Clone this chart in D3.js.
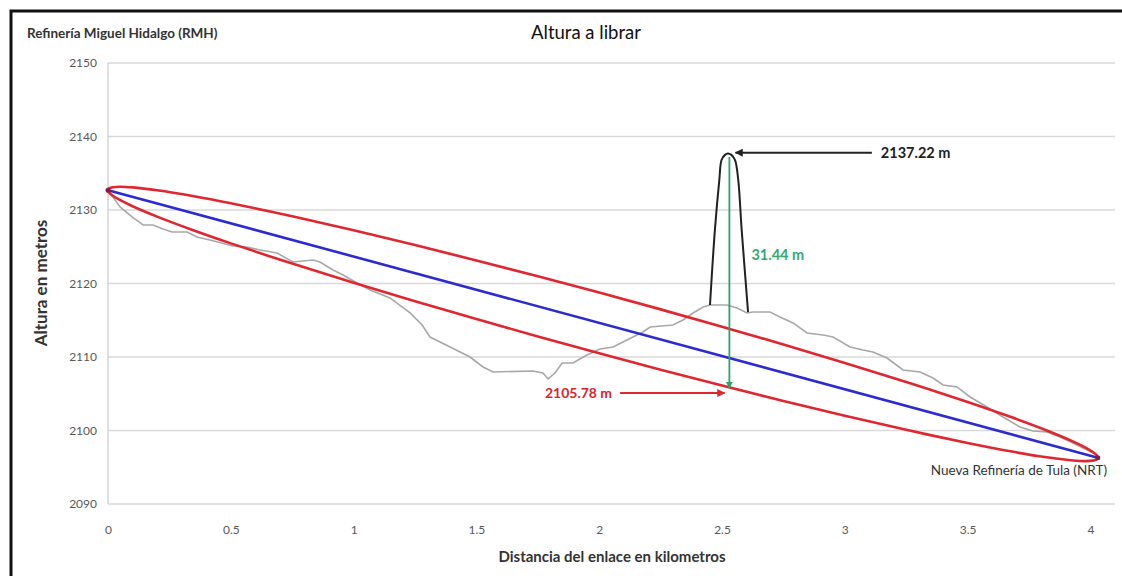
<!DOCTYPE html>
<html>
<head>
<meta charset="utf-8">
<script src="https://cdn.jsdelivr.net/npm/d3@7"></script>
<style>
  html, body { margin: 0; padding: 0; background: #fff; }
  svg { display: block; }
  text { font-family: Lato, "Open Sans", sans-serif; }
</style>
</head>
<body>
<svg id="chart" width="1122" height="576"></svg>
<script>
// ---------- data ----------
const titleText = "Altura a librar";
const startLabel = "Refinería Miguel Hidalgo (RMH)";
const endLabel = "Nueva Refinería de Tula (NRT)";
const xTitle = "Distancia del enlace en kilometros";
const yTitle = "Altura en metros";

const yTicks = [2090, 2100, 2110, 2120, 2130, 2140, 2150];
const xTicks = [0, 0.5, 1, 1.5, 2, 2.5, 3, 3.5, 4];
const xTickLabels = ["0", "0.5", "1", "1.5", "2", "2.5", "3", "3.5", "4"];

// terrain profile (km, m)
const profileKm = [0, 0.049, 0.098, 0.143, 0.183, 0.224, 0.261, 0.322, 0.362, 0.415, 0.509, 0.566, 0.619, 0.688, 0.753, 0.835, 0.863, 0.916, 0.957, 1.014, 1.067, 1.148, 1.230, 1.279, 1.311, 1.393, 1.474, 1.527, 1.568, 1.730, 1.771, 1.792, 1.820, 1.849, 1.893, 1.950, 2.003, 2.056, 2.113, 2.178, 2.207, 2.300, 2.341, 2.382, 2.423, 2.451, 2.520, 2.561, 2.602, 2.626, 2.695, 2.736, 2.789, 2.846, 2.911, 2.952, 3.021, 3.074, 3.115, 3.172, 3.237, 3.306, 3.359, 3.400, 3.457, 3.510, 3.579, 3.644, 3.713, 3.766, 3.823, 3.876, 3.929, 3.986, 4.027, 4.03];
const profileM = [2132.7, 2130.41, 2129.05, 2127.96, 2127.96, 2127.41, 2127.01, 2127.01, 2126.33, 2125.92, 2125.10, 2124.97, 2124.56, 2124.15, 2122.93, 2123.20, 2122.93, 2121.84, 2121.16, 2120.07, 2119.12, 2118.03, 2115.99, 2114.35, 2112.72, 2111.36, 2110.00, 2108.64, 2107.96, 2108.10, 2107.82, 2107.01, 2107.82, 2109.18, 2109.18, 2110.27, 2111.09, 2111.36, 2112.31, 2113.40, 2114.08, 2114.35, 2115.03, 2115.99, 2116.80, 2117.07, 2117.07, 2116.67, 2115.99, 2116.12, 2116.12, 2115.44, 2114.63, 2113.27, 2113.00, 2112.72, 2111.36, 2110.95, 2110.68, 2109.86, 2108.23, 2107.96, 2107.14, 2106.19, 2105.92, 2104.56, 2103.20, 2101.84, 2100.48, 2099.93, 2099.80, 2099.12, 2098.30, 2097.35, 2096.67, 2096.3];

// line of sight
const linkKm = [0, 4.03];
const linkM = [2132.7, 2096.3];

// Fresnel zone edges (km, upper m, lower m)
const fresnelKm = [0, 0.005, 0.02, 0.05, 0.1, 0.2, 0.35, 0.5, 0.75, 1, 1.25, 1.5, 1.75, 2, 2.25, 2.5, 2.75, 3, 3.25, 3.5, 3.68, 3.83, 3.93, 3.98, 4.01, 4.025, 4.03];
const fresnelUpper = [2132.7, 2132.95, 2133.10, 2133.17, 2133.08, 2132.69, 2131.87, 2130.91, 2129.15, 2127.24, 2125.23, 2123.14, 2120.99, 2118.77, 2116.48, 2114.13, 2111.71, 2109.20, 2106.61, 2103.88, 2101.79, 2099.90, 2098.49, 2097.67, 2097.06, 2096.64, 2096.3];
const fresnelLower = [2132.7, 2132.36, 2131.94, 2131.34, 2130.51, 2129.10, 2127.21, 2125.46, 2122.71, 2120.10, 2117.59, 2115.16, 2112.80, 2110.51, 2108.28, 2106.11, 2104.01, 2102.00, 2100.09, 2098.30, 2097.13, 2096.32, 2095.92, 2095.84, 2095.90, 2096.06, 2096.3];

// obstacle (height to clear)
const obstacleKm = [2.451, 2.471, 2.489, 2.498, 2.512, 2.524, 2.538, 2.553, 2.566, 2.580, 2.606];
const obstacleM = [2117.07, 2127.3, 2134.1, 2136.8, 2137.5, 2137.7, 2137.5, 2136.8, 2134.1, 2127.3, 2116.1];

// annotations
const peakKm = 2.53, peakM = 2137.22, clearM = 2105.78, diffM = 31.44;
const peakLabel = "2137.22 m", clearLabel = "2105.78 m", diffLabel = "31.44 m";
const peakArrowKm = [3.11, 2.555], peakArrowM = 2137.8;
const clearArrowKm = [2.085, 2.51], clearArrowM = 2105.1;

// ---------- drawing ----------
const svg = d3.select("#chart");
const W = 1122, H = 576;
const x = d3.scaleLinear().domain([0, 4.1]).range([108, 1115]);
const y = d3.scaleLinear().domain([2090, 2150]).range([504, 63]);

// frame
svg.append("rect").attr("x", 0).attr("y", 0).attr("width", W).attr("height", H).attr("fill", "#fff");
svg.append("path").attr("d", `M11,${H} L11,11 L${W},11`).attr("fill", "none").attr("stroke", "#111").attr("stroke-width", 3);

// gridlines
svg.append("g").selectAll("line").data(yTicks).join("line")
  .attr("x1", x(0)).attr("x2", x(4.1))
  .attr("y1", d => y(d)).attr("y2", d => y(d))
  .attr("stroke", "#d9d9d9").attr("stroke-width", 1.3);
svg.append("line").attr("x1", x(0)).attr("x2", x(0)).attr("y1", y(2150)).attr("y2", y(2090))
  .attr("stroke", "#d0d0d0").attr("stroke-width", 1.3);

// axes
const yAxis = d3.axisLeft(y).tickValues(yTicks).tickSize(0).tickPadding(11).tickFormat(d3.format("d"));
const gy = svg.append("g").attr("transform", `translate(${x(0)},0)`).call(yAxis);
gy.select(".domain").remove();
gy.selectAll("text").attr("font-size", 12).attr("fill", "#595959").attr("font-family", "Lato, sans-serif");

const xAxis = d3.axisBottom(x).tickValues(xTicks).tickSize(0).tickPadding(21).tickFormat((d, i) => xTickLabels[i]);
const gx = svg.append("g").attr("transform", `translate(0,${y(2090)})`).call(xAxis);
gx.select(".domain").remove();
gx.selectAll("text").attr("font-size", 12).attr("fill", "#595959").attr("font-family", "Lato, sans-serif");

// terrain
const line = d3.line().x(d => x(d[0])).y(d => y(d[1]));
svg.append("path").datum(profileKm.map((k, i) => [k, profileM[i]]))
  .attr("d", line).attr("fill", "none").attr("stroke", "#a8a8a8").attr("stroke-width", 1.6);

// obstacle
svg.append("path").datum(obstacleKm.map((k, i) => [k, obstacleM[i]]))
  .attr("d", d3.line().x(d => x(d[0])).y(d => y(d[1])).curve(d3.curveCatmullRom.alpha(0.5)))
  .attr("fill", "none").attr("stroke", "#222").attr("stroke-width", 2);

// line of sight
svg.append("path").datum(linkKm.map((k, i) => [k, linkM[i]]))
  .attr("d", line).attr("fill", "none").attr("stroke", "#2b2bd0").attr("stroke-width", 2.6);

// Fresnel zone
const fresnelPts = fresnelKm.map((k, i) => [k, fresnelUpper[i]])
  .concat(fresnelKm.slice(1, -1).map((k, i) => [k, fresnelLower[i + 1]]).reverse());
svg.append("path").datum(fresnelPts)
  .attr("d", d3.line().x(d => x(d[0])).y(d => y(d[1])).curve(d3.curveCatmullRomClosed.alpha(0.5)))
  .attr("fill", "none").attr("stroke", "#e0262e").attr("stroke-width", 2.6);

// end markers
svg.append("g").selectAll("circle").data(linkKm.map((k, i) => [k, linkM[i]])).join("circle")
  .attr("cx", d => x(d[0])).attr("cy", d => y(d[1])).attr("r", 2.5).attr("fill", "#8a1a40");

// markers
const defs = svg.append("defs");
function marker(id, color) {
  defs.append("marker").attr("id", id).attr("viewBox", "0 0 10 10").attr("refX", 9).attr("refY", 5)
    .attr("markerWidth", 4).attr("markerHeight", 4).attr("orient", "auto")
    .append("path").attr("d", "M0,0 L10,5 L0,10 z").attr("fill", color);
}
marker("arBlack", "#222");
marker("arRed", "#e0262e");
marker("arGreen", "#2aa36a");

// green clearance arrow
svg.append("line").attr("x1", x(peakKm)).attr("x2", x(peakKm))
  .attr("y1", y(peakM)).attr("y2", y(clearM))
  .attr("stroke", "#2aa36a").attr("stroke-width", 1.8).attr("marker-end", "url(#arGreen)");

// black peak arrow
svg.append("line").attr("x1", x(peakArrowKm[0])).attr("x2", x(peakArrowKm[1]))
  .attr("y1", y(peakArrowM)).attr("y2", y(peakArrowM))
  .attr("stroke", "#222").attr("stroke-width", 2).attr("marker-end", "url(#arBlack)");

// red clearance arrow
svg.append("line").attr("x1", x(clearArrowKm[0])).attr("x2", x(clearArrowKm[1]))
  .attr("y1", y(clearArrowM)).attr("y2", y(clearArrowM))
  .attr("stroke", "#e0262e").attr("stroke-width", 2).attr("marker-end", "url(#arRed)");

// annotation texts
svg.append("text").attr("x", x(peakArrowKm[0]) + 9).attr("y", y(peakArrowM) + 5)
  .attr("font-size", 14.5).attr("font-weight", "bold").attr("fill", "#222").text(peakLabel);
svg.append("text").attr("x", x(clearArrowKm[0]) - 8).attr("y", y(clearArrowM) + 5)
  .attr("text-anchor", "end").attr("font-size", 14).attr("font-weight", "bold").attr("fill", "#d8262e").text(clearLabel);
svg.append("text").attr("x", x(peakKm) + 22).attr("y", y(2123.9) + 5)
  .attr("font-size", 14.5).attr("font-weight", "bold").attr("fill", "#33aa6e").text(diffLabel);

// titles
svg.append("text").attr("x", 586).attr("y", 39).attr("text-anchor", "middle")
  .attr("font-size", 18.5).attr("fill", "#111").text(titleText);
svg.append("text").attr("x", 27).attr("y", 38)
  .attr("font-size", 13.5).attr("font-weight", "bold").attr("fill", "#333").text(startLabel);
svg.append("text").attr("x", 1107).attr("y", 475).attr("text-anchor", "end")
  .attr("font-size", 13.5).attr("fill", "#333").text(endLabel);
svg.append("text").attr("x", 612).attr("y", 562).attr("text-anchor", "middle")
  .attr("font-size", 15).attr("font-weight", "bold").attr("fill", "#333").text(xTitle);
svg.append("text").attr("transform", "translate(47,283) rotate(-90)").attr("text-anchor", "middle")
  .attr("font-size", 17).attr("font-weight", "bold").attr("fill", "#333").text(yTitle);
</script>
</body>
</html>
